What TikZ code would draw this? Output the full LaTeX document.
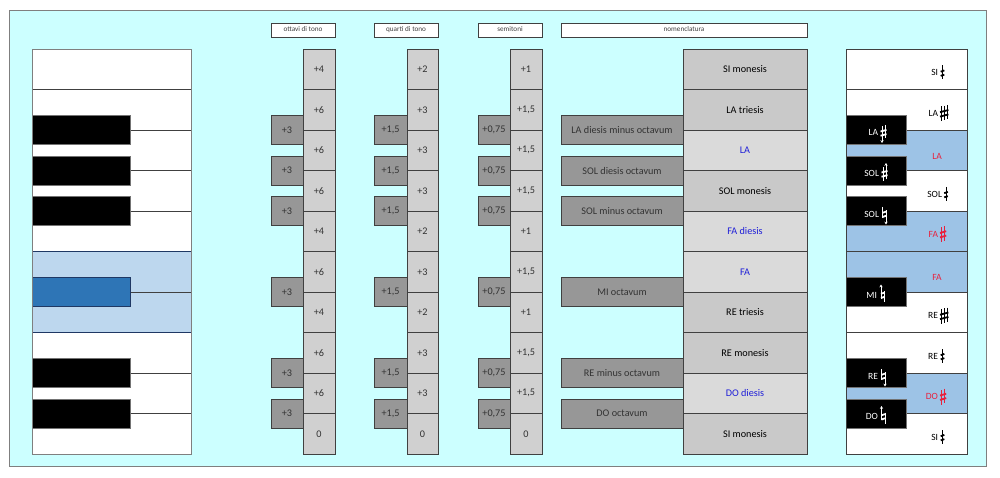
\documentclass[tikz,border=0pt]{standalone}
\usepackage{fontspec}
\setmainfont{Carlito}
\usetikzlibrary{arrows.meta}
\definecolor{bgcyan}{HTML}{CCFFFF}
\definecolor{cellgray}{HTML}{D0D0D0}
\definecolor{nomgray}{HTML}{C9C9C9}
\definecolor{nomlight}{HTML}{DADADA}
\definecolor{sidegray}{HTML}{979797}
\definecolor{keyblue}{HTML}{9DC3E6}
\definecolor{bandblue}{HTML}{BDD7EE}
\definecolor{midblue}{HTML}{2E75B6}
\definecolor{navy}{HTML}{1F3864}
\definecolor{txtred}{HTML}{E8203C}
\definecolor{txtblue}{HTML}{1F1FD8}
\definecolor{framegray}{HTML}{7F7F7F}
\definecolor{linegray}{HTML}{404040}

\newcommand{\ColRow}[7]{%
  \node[colcell, minimum width=32pt] (ot#1) at (319,{69.25+40.5*#1}) {#2};
  \node[colcell, minimum width=31pt] (qu#1) at (422.5,{69.25+40.5*#1}) {#3};
  \node[colcell, minimum width=32pt] (se#1) at (526,{69.25+40.5*#1}) {#4};
  \node[colcell, minimum width=124pt, fill=#6, text=#7] (no#1) at (745,{69.25+40.5*#1}) {#5};
}
\newcommand{\SideRow}[5]{%
  \node[sidecell, minimum width=32pt] (sot#1) at (287,{49+40.5*#1}) {#2};
  \node[sidecell, minimum width=33pt] (squ#1) at (390.5,{49+40.5*#1}) {#3};
  \node[sidecell, minimum width=32pt] (sse#1) at (494,{49+40.5*#1}) {#4};
  \node[sidecell, minimum width=122pt] (sno#1) at (622,{49+40.5*#1}) {#5};
}

\tikzset{
  pics/halfsharp/.style={code={
    \draw[line width=0.8pt] (1.5,-7) -- (1.5,7);
    \draw[line width=1.8pt] (-0.3,-0.8) -- (3.3,-2.1) (-0.3,3.4) -- (3.3,2.1);
  }},
  pics/sharpsym/.style={code={
    \draw[line width=0.8pt] (1.5,-6.5) -- (1.5,8) (4.7,-8) -- (4.7,6.5);
    \draw[line width=1.8pt] (0,-1) -- (6.2,-2.8) (0,3.4) -- (6.2,1.6);
  }},
  pics/sesquisharp/.style={code={
    \draw[line width=0.8pt] (1.5,-6.5) -- (1.5,8) (4.2,-7.2) -- (4.2,7.2) (6.9,-8) -- (6.9,6.5);
    \draw[line width=1.8pt] (0,-0.8) -- (8.4,-3) (0,3.6) -- (8.4,1.4);
  }},
  pics/sharpup/.style={code={
    \draw[line width=0.8pt] (1.5,-6) -- (1.5,7.5);
    \draw[line width=0.8pt, -{Stealth[length=2.8pt,width=3.2pt]}] (4.5,6) -- (4.5,-10.5);
    \draw[line width=1.8pt] (0,-1) -- (6,-2.6) (0,3.2) -- (6,1.6);
  }},
  pics/sharpdown/.style={code={
    \draw[line width=0.8pt] (4.5,-7.5) -- (4.5,6);
    \draw[line width=0.8pt, -{Stealth[length=2.8pt,width=3.2pt]}] (1.5,-6) -- (1.5,10.5);
    \draw[line width=1.8pt] (0,-1) -- (6,-2.6) (0,3.2) -- (6,1.6);
  }},
  pics/naturalup/.style={code={
    \draw[line width=0.8pt] (4.5,-3.8) -- (4.5,7);
    \draw[line width=0.8pt, -{Stealth[length=2.8pt,width=3.2pt]}] (1,3.8) -- (1,-10.5);
    \draw[line width=1.8pt] (1,-1.2) -- (4.5,-2.4) (1,3) -- (4.5,1.8);
  }},
  pics/naturaldown/.style={code={
    \draw[line width=0.8pt] (1,-7) -- (1,3.8);
    \draw[line width=0.8pt, -{Stealth[length=2.8pt,width=3.2pt]}] (4.5,-3.8) -- (4.5,10.5);
    \draw[line width=1.8pt] (1,-1.2) -- (4.5,-2.4) (1,3) -- (4.5,1.8);
  }},
}

\begin{document}
\begin{tikzpicture}[x=1pt,y=-1pt,
  every node/.style={inner sep=0pt, outer sep=0pt},
  hdr/.style={draw=linegray, line width=0.5pt, fill=white, minimum height=14pt, text height=5pt, text depth=1.5pt, text=black!75, font=\fontsize{7.2}{8}\selectfont},
  colcell/.style={draw=linegray, line width=0.6pt, fill=cellgray, minimum height=40.5pt, text=black!80, font=\fontsize{10.2}{12}\selectfont},
  sidecell/.style={draw=linegray, line width=0.6pt, fill=sidegray, minimum height=29pt, text=black!80, font=\fontsize{10.2}{12}\selectfont},
  lkey/.style={fill=black, draw=black!55, line width=0.4pt, minimum width=98pt, minimum height=29pt},
  rkey/.style={fill=black, draw=black!55, line width=0.4pt, minimum width=60pt, minimum height=29pt},
  rrow/.style={draw=linegray, line width=0.5pt, minimum width=121pt, minimum height=40.5pt},
  klabel/.style={font=\fontsize{9.5}{11}\selectfont, anchor=east},
  clabel/.style={font=\fontsize{9.5}{11}\selectfont},
]
\useasboundingbox (0,0) rectangle (1000,478);
\fill[white] (0,0) rectangle (1000,478);
\draw[framegray, fill=bgcyan, line width=0.8pt] (9,10) rectangle (986,466);

% headers
\node[hdr, minimum width=64pt] (h1) at (303,30) {ottavi di tono};
\node[hdr, minimum width=64pt] (h2) at (406,30) {quarti di tono};
\node[hdr, minimum width=64pt] (h3) at (510,30) {semitoni};
\node[hdr, minimum width=246pt] (h4) at (684,30) {nomenclatura};

% left keyboard
\node[fill=white, minimum width=159pt, minimum height=405pt] (lkb) at (111.5,251.5) {};
\fill[bandblue] (32,251.5) rectangle (191,332.5);
\foreach \yy in {89.5,130,170.5,211,292,373,413.5}
  \draw[linegray, line width=0.5pt] (32,\yy) -- (191,\yy);
\draw[navy, line width=0.6pt] (32,251.5) -- (191,251.5) (32,332.5) -- (191,332.5);
\node[lkey] (lk1) at (81,130) {};
\node[lkey] (lk2) at (81,170.5) {};
\node[lkey] (lk3) at (81,211) {};
\node[lkey, fill=midblue, draw=navy] (lk4) at (81,292) {};
\node[lkey] (lk5) at (81,373) {};
\node[lkey] (lk6) at (81,413.5) {};
\draw[framegray, line width=0.7pt] (lkb.north west) rectangle (lkb.south east);

% columns
\SideRow{2}{+3}{+1,5}{+0,75}{LA diesis minus octavum}
\SideRow{3}{+3}{+1,5}{+0,75}{SOL diesis octavum}
\SideRow{4}{+3}{+1,5}{+0,75}{SOL minus octavum}
\SideRow{6}{+3}{+1,5}{+0,75}{MI octavum}
\SideRow{8}{+3}{+1,5}{+0,75}{RE minus octavum}
\SideRow{9}{+3}{+1,5}{+0,75}{DO octavum}

\ColRow{0}{+4}{+2}{+1}{SI monesis}{nomgray}{black}
\ColRow{1}{+6}{+3}{+1,5}{LA triesis}{nomgray}{black}
\ColRow{2}{+6}{+3}{+1,5}{LA}{nomlight}{txtblue}
\ColRow{3}{+6}{+3}{+1,5}{SOL monesis}{nomgray}{black}
\ColRow{4}{+4}{+2}{+1}{FA diesis}{nomlight}{txtblue}
\ColRow{5}{+6}{+3}{+1,5}{FA}{nomlight}{txtblue}
\ColRow{6}{+4}{+2}{+1}{RE triesis}{nomgray}{black}
\ColRow{7}{+6}{+3}{+1,5}{RE monesis}{nomgray}{black}
\ColRow{8}{+6}{+3}{+1,5}{DO diesis}{nomlight}{txtblue}
\ColRow{9}{0}{0}{0}{SI monesis}{nomgray}{black}

% right keyboard rows
\foreach \i/\c in {0/white,1/white,2/keyblue,3/white,4/keyblue,5/keyblue,6/white,7/white,8/keyblue,9/white}
  \node[rrow, fill=\c] (rr\i) at (906.5,{69.25+40.5*\i}) {};
\node[rkey] (rk1) at (876,130) {};
\node[rkey] (rk2) at (876,170.5) {};
\node[rkey] (rk3) at (876,211) {};
\node[rkey] (rk4) at (876,292) {};
\node[rkey] (rk5) at (876,373) {};
\node[rkey] (rk6) at (876,413.5) {};
\draw[linegray, line width=0.7pt] (846,49) rectangle (967,454);

% right white-key labels
\node[klabel] (rl0) at (938,72.5) {SI};   \pic at (941,72.5) {halfsharp};
\node[klabel] (rl1) at (938,113) {LA};    \pic at (940,113) {sesquisharp};
\node[clabel, text=txtred] (rl2) at (937,156) {LA};
\node[klabel] (rl3) at (942,194) {SOL};   \pic at (944.5,194) {halfsharp};
\node[klabel, text=txtred] (rl4) at (938,234) {FA}; \pic[txtred] at (940,234) {sharpsym};
\node[clabel, text=txtred] (rl5) at (937,277) {FA};
\node[klabel] (rl6) at (938,315.5) {RE};  \pic at (940,315.5) {sesquisharp};
\node[klabel] (rl7) at (938,356) {RE};    \pic at (941,356) {halfsharp};
\node[klabel, text=txtred] (rl8) at (938,396.5) {DO}; \pic[txtred] at (940,396.5) {sharpsym};
\node[klabel] (rl9) at (938,437) {SI};    \pic at (941,437) {halfsharp};

% black-key labels
\node[klabel, text=white] (bl1) at (878,132.5) {LA};  \pic[white] at (880.5,132.5) {sharpdown};
\node[klabel, text=white] (bl2) at (879,173.5) {SOL}; \pic[white] at (881.5,173.5) {sharpup};
\node[klabel, text=white] (bl3) at (879,214) {SOL};   \pic[white] at (881.5,214) {naturaldown};
\node[klabel, text=white] (bl4) at (877,295) {MI};    \pic[white] at (880,295) {naturalup};
\node[klabel, text=white] (bl5) at (878,376) {RE};    \pic[white] at (880.5,376) {naturaldown};
\node[klabel, text=white] (bl6) at (878,416.5) {DO};  \pic[white] at (880.5,416.5) {naturalup};
\end{tikzpicture}
\end{document}
